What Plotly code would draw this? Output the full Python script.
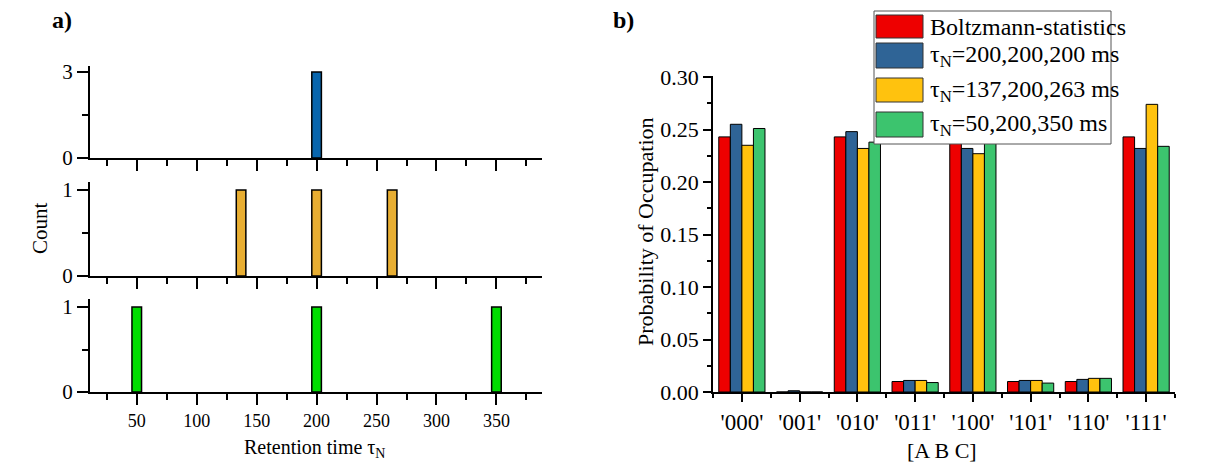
import plotly.graph_objects as go

# ---------------- data ----------------
# panel a) retention-time histograms
top_times = [200]
top_counts = [3]
mid_times = [137, 200, 263]
mid_counts = [1, 1, 1]
bot_times = [50, 200, 350]
bot_counts = [1, 1, 1]

# panel b) occupation probabilities
categories = ["'000'", "'001'", "'010'", "'011'", "'100'", "'101'", "'110'", "'111'"]
series_names = ["Boltzmann-statistics",
                "τ<sub>N</sub>=200,200,200 ms",
                "τ<sub>N</sub>=137,200,263 ms",
                "τ<sub>N</sub>=50,200,350 ms"]
boltzmann = [0.243, 0.000, 0.243, 0.010, 0.243, 0.010, 0.010, 0.243]
tau_200 = [0.255, 0.0012, 0.248, 0.011, 0.232, 0.011, 0.012, 0.232]
tau_137 = [0.235, 0.000, 0.232, 0.011, 0.227, 0.011, 0.013, 0.274]
tau_50 = [0.251, 0.000, 0.238, 0.009, 0.240, 0.0085, 0.013, 0.234]
series_values = [boltzmann, tau_200, tau_137, tau_50]

W, H = 1215, 465
FONT = "Liberation Serif, Times New Roman, serif"

left_colors = ["#0866AE", "#E8AE32", "#00DD00"]
right_colors = ["#EE0000", "#2F6496", "#FFC20E", "#3CC46E"]


def px(x):
    return x / W


def py(y):
    return 1 - y / H


fig = go.Figure()

# left panels
for i, (t, c, col) in enumerate([(top_times, top_counts, left_colors[0]),
                                  (mid_times, mid_counts, left_colors[1]),
                                  (bot_times, bot_counts, left_colors[2])]):
    sfx = "" if i == 0 else str(i + 1)
    fig.add_trace(go.Bar(x=t, y=c, width=8, marker=dict(color=col, line=dict(color="black", width=1.5)),
                         xaxis="x" + sfx, yaxis="y" + sfx, showlegend=False))

# right panel
xidx = list(range(len(categories)))
for name, vals, col in zip(series_names, series_values, right_colors):
    fig.add_trace(go.Bar(x=xidx, y=vals, name=name,
                         marker=dict(color=col, line=dict(color="black", width=1)),
                         xaxis="x4", yaxis="y4", showlegend=False))

left_x_dom = [px(90), px(542)]
left_domains = [[py(158), py(66)], [py(276), py(182)], [py(392), py(299)]]
left_ranges = [[0, 3.21], [0, 1.093], [0, 1.094]]
left_ytick = [[0, 3], [0, 1], [0, 1]]
left_minor = [[1.5], [0.5], [0.5]]

layout = dict(
    width=W, height=H, margin=dict(l=0, r=0, t=0, b=0, autoexpand=False),
    paper_bgcolor="white", plot_bgcolor="white",
    barmode="group", bargap=0.2, bargroupgap=0,
    font=dict(family=FONT, color="black"),
    showlegend=False,
)

for i in range(3):
    sfx = "" if i == 0 else str(i + 1)
    layout["xaxis" + sfx] = dict(
        domain=left_x_dom, range=[11, 388], anchor="y" + sfx, automargin=False,
        showline=True, linecolor="black", linewidth=2, showgrid=False, zeroline=False,
        ticks="outside", ticklen=11, tickwidth=2, tickcolor="black",
        tickmode="linear", tick0=0, dtick=50,
        showticklabels=(i == 2), tickfont=dict(size=18, family=FONT),
        minor=dict(ticks="outside", ticklen=6, tickwidth=2, tickcolor="black", tickmode="linear", tick0=25, dtick=50),
    )
    layout["yaxis" + sfx] = dict(
        domain=left_domains[i], range=left_ranges[i], anchor="x" + sfx, automargin=False,
        showline=True, linecolor="black", linewidth=2, showgrid=False, zeroline=False,
        ticks="outside", ticklen=11, tickwidth=2, tickcolor="black",
        tickmode="array", tickvals=left_ytick[i], tickfont=dict(size=21, family=FONT),
        minor=dict(ticks="outside", ticklen=6, tickwidth=2, tickcolor="black", tickmode="array", tickvals=left_minor[i]),
    )

layout["xaxis4"] = dict(
    domain=[px(713), px(1175)], range=[-0.5, len(categories) - 0.5], anchor="y4", automargin=False,
    showline=True, linecolor="black", linewidth=2, showgrid=False, zeroline=False,
    ticks="outside", ticklen=8, tickwidth=1.5, tickcolor="black",
    tickmode="array", tickvals=xidx, ticktext=categories, tickfont=dict(size=23, family=FONT),
    minor=dict(ticks="outside", ticklen=4, tickwidth=1.5, tickcolor="black", tickmode="linear", tick0=0.5, dtick=1),
)
layout["yaxis4"] = dict(
    domain=[py(392), py(76)], range=[0, 0.301], anchor="x4", automargin=False,
    showline=True, linecolor="black", linewidth=1.5, showgrid=False, zeroline=False,
    ticks="outside", ticklen=8, tickwidth=1.5, tickcolor="black",
    tickmode="linear", tick0=0, dtick=0.05, tickformat=".2f", tickfont=dict(size=22, family=FONT),
    minor=dict(ticks="outside", ticklen=4, tickwidth=1.5, tickcolor="black", tickmode="linear", tick0=0.025, dtick=0.05),
)


def ann(text, x, y, size, angle=0, xanchor="center", bold=False):
    return dict(text=("<b>%s</b>" % text) if bold else text, x=px(x), y=py(y), xref="paper", yref="paper",
                showarrow=False, textangle=angle, xanchor=xanchor, yanchor="middle",
                font=dict(size=size, family=FONT, color="black"))


annotations = [
    ann("a)", 62, 20, 24, bold=True),
    ann("b)", 623, 20, 24, bold=True),
    ann("Count", 40, 228, 21, angle=-90),
    ann("Retention time τ<sub>N</sub>", 314, 448, 20),
    ann("Probability of Occupation", 645, 232, 22, angle=-90),
    ann("[A B C]", 942, 450, 22),
]

# custom legend (large swatches, drawn over the bars)
shapes = [dict(type="rect", xref="paper", yref="paper", x0=px(874), x1=px(1111), y0=py(144), y1=py(11),
               fillcolor="white", line=dict(color="#555555", width=1), layer="above")]
sw_y = [(15, 38), (43, 68), (78, 102), (112, 137)]
txt_y = [27, 56, 91, 125]
for (y0, y1), ty, name, col in zip(sw_y, txt_y, series_names, right_colors):
    shapes.append(dict(type="rect", xref="paper", yref="paper", x0=px(876), x1=px(923), y0=py(y1), y1=py(y0),
                       fillcolor=col, line=dict(color="#333333", width=1), layer="above"))
    annotations.append(ann(name, 928, ty, 24, xanchor="left"))

layout["annotations"] = annotations
layout["shapes"] = shapes
fig.update_layout(**layout)

fig.write_html("out.html")
